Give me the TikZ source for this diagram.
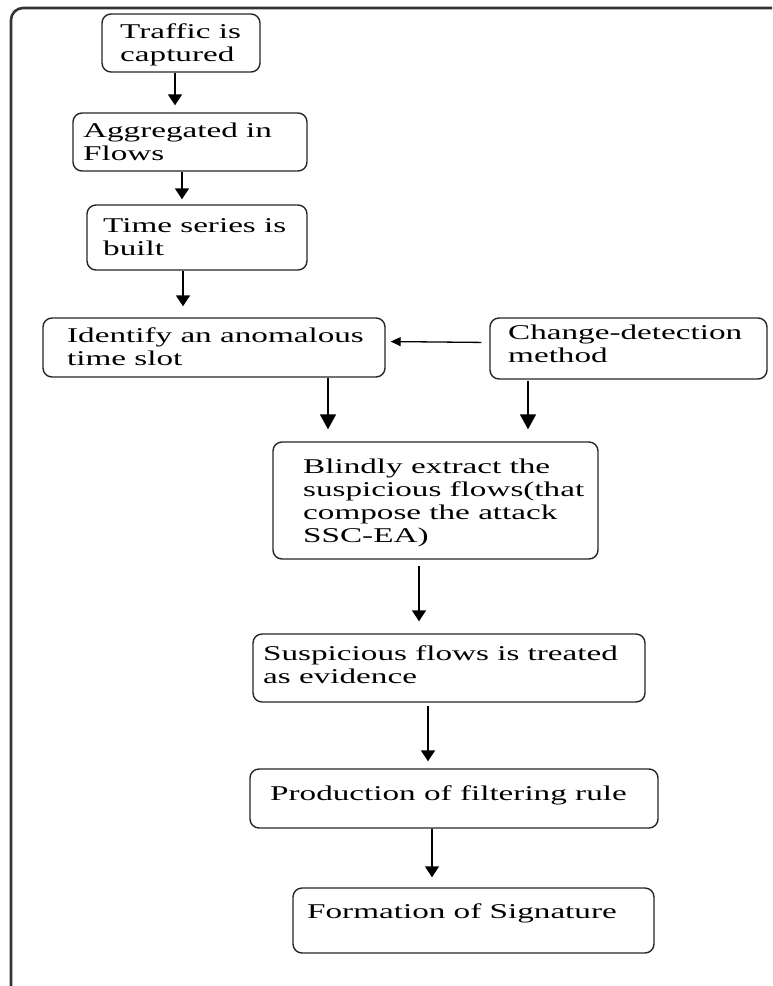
\documentclass[tikz,border=0pt]{standalone}
\usepackage{fontspec}
\setmainfont[FakeStretch=1.58]{Liberation Serif}
\usetikzlibrary{arrows.meta}

\begin{document}
\begin{tikzpicture}[x=1pt,y=-1pt,
	stepbox/.style={draw=black!85,line width=1.4pt,rounded corners=9pt,inner sep=0},
	steptext/.style={anchor=west,align=left,inner sep=0,font=\fontsize{21}{23}\selectfont},
	flow/.style={-{Triangle[length=11pt,width=14pt]},line width=1.6pt},
	bigflow/.style={-{Triangle[length=15pt,width=16pt]},line width=1.6pt},
	sideflow/.style={-{Triangle[length=10pt,width=9pt]},line width=1.3pt},
	frame/.style={draw=black!80,line width=2.6pt,rounded corners=12pt}]
\useasboundingbox (0,0) rectangle (772,986);
\draw[frame] (11,986) -- (11,8) -- (772,8);

% boxes
\node[stepbox,minimum width=158pt,minimum height=58pt] (traffic) at (181,43) {};
\node[stepbox,minimum width=234pt,minimum height=58pt] (aggr) at (190,142) {};
\node[stepbox,minimum width=220pt,minimum height=65pt] (series) at (197,237.5) {};
\node[stepbox,minimum width=342pt,minimum height=59pt] (ident) at (214,347.5) {};
\node[stepbox,minimum width=277pt,minimum height=61pt] (change) at (628.5,348.5) {};
\node[stepbox,minimum width=325pt,minimum height=117pt] (blind) at (435.5,500.5) {};
\node[stepbox,minimum width=392pt,minimum height=68pt] (susp) at (449,668) {};
\node[stepbox,minimum width=408pt,minimum height=59pt] (prod) at (454,798.5) {};
\node[stepbox,minimum width=361pt,minimum height=65pt] (form) at (473.5,920.5) {};

% texts
\node[steptext] (traffic-t) at (120,45) {Traffic is\\captured};
\node[steptext] (aggr-t) at (83,141.5) {Aggregated in\\Flows};
\node[steptext] (series-t) at (103,237.5) {Time series is\\built};
\node[steptext] (ident-t) at (67,346.5) {Identify an anomalous\\time slot};
\node[steptext] (change-t) at (508,343.5) {Change-detection\\method};
\node[steptext] (blind-t) at (303,503) {Blindly extract the\\suspicious flows(that\\compose the attack\\SSC-EA)};
\node[steptext] (susp-t) at (263,665) {Suspicious flows is treated\\as evidence};
\node[steptext] (prod-t) at (270,795) {Production of filtering rule};
\node[steptext] (form-t) at (307,913) {Formation of Signature};

% arrows
\draw[flow,shorten >=7pt] ([xshift=-6pt]traffic.south) -- ([xshift=-15pt]aggr.north);
\draw[flow,shorten >=5pt] ([xshift=-8pt]aggr.south) -- ([xshift=-15pt]series.north);
\draw[flow,shorten >=11pt] ([xshift=-14pt]series.south) -- ([xshift=-31pt]ident.north);
\draw[sideflow,shorten <=8pt,shorten >=5pt] ([yshift=6pt]change.west) -- ([yshift=6pt]ident.east);
\draw[bigflow,shorten >=12pt] ([xshift=114pt]ident.south) -- ([xshift=-107.5pt]blind.north);
\draw[bigflow,shorten <=1pt,shorten >=12pt] ([xshift=-100.5pt]change.south) -- ([xshift=92.5pt]blind.north);
\draw[flow,shorten <=6pt,shorten >=12pt] ([xshift=-16.5pt]blind.south) -- ([xshift=-30pt]susp.north);
\draw[flow,shorten <=3pt,shorten >=7pt] ([xshift=-21pt]susp.south) -- ([xshift=-26pt]prod.north);
\draw[flow,shorten >=10pt] ([xshift=-22pt]prod.south) -- ([xshift=-41.5pt]form.north);
\end{tikzpicture}
\end{document}
